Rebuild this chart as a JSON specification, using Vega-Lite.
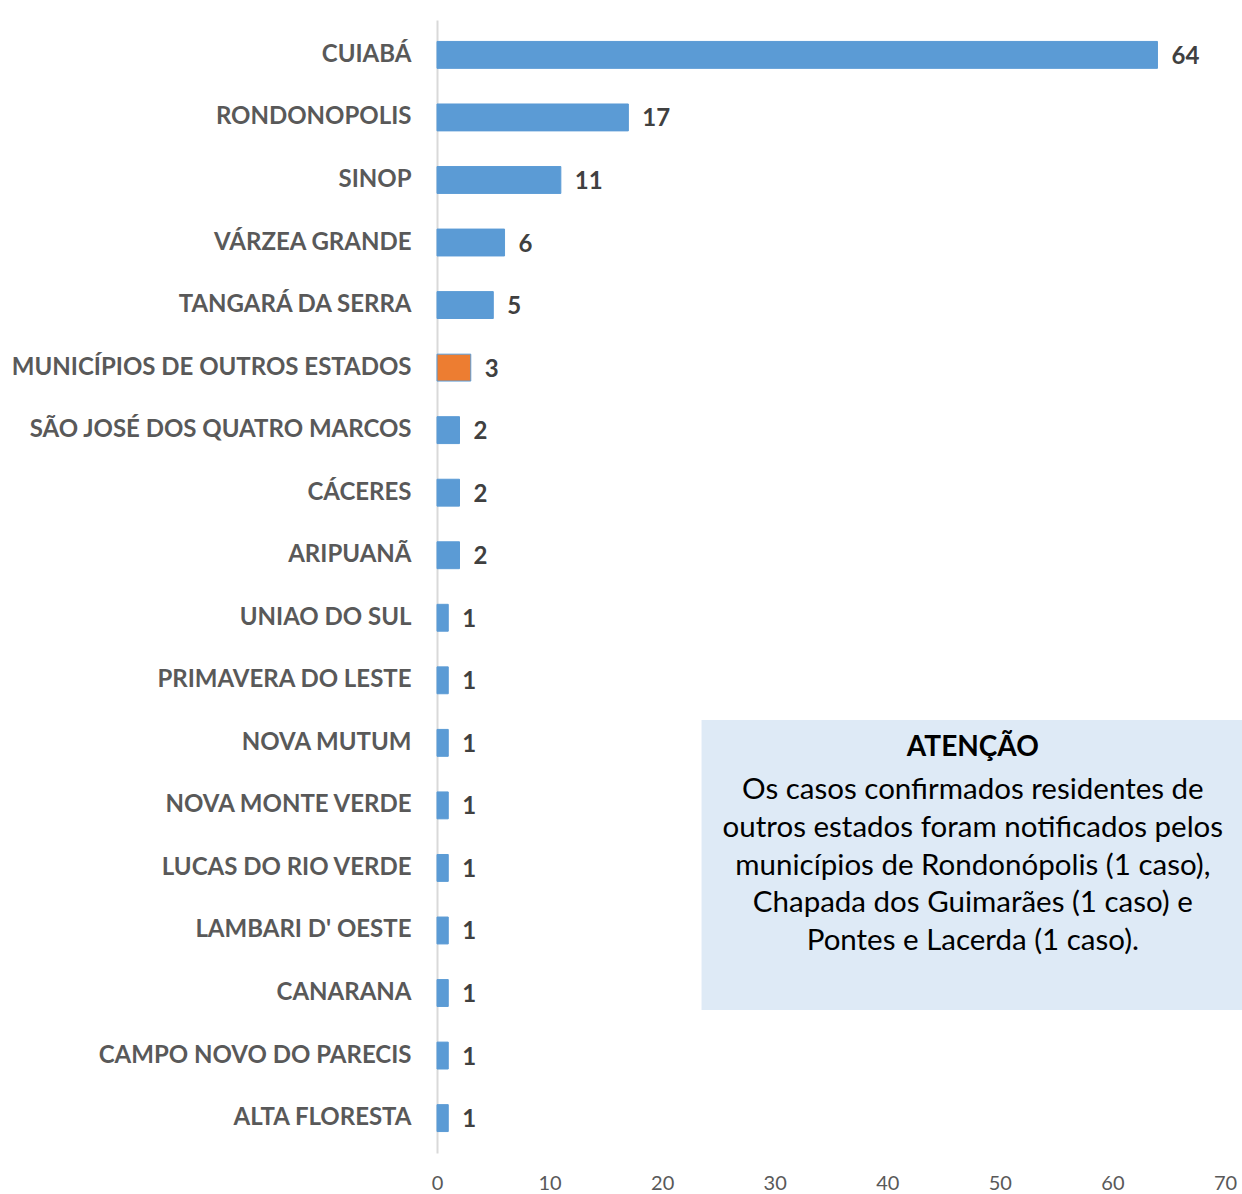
{
  "$schema": "https://vega.github.io/schema/vega-lite/v6.json",
  "autosize": "none",
  "width": 788,
  "height": 1133,
  "padding": {"left": 437, "top": 20, "right": 17, "bottom": 41},
  "background": "white",
  "config": {"view": {"stroke": null}, "font": "Lato"},
  "datasets": {
    "bars": [
      {"municipio": "CUIABÁ", "casos": 64, "grupo": "MT"},
      {"municipio": "RONDONOPOLIS", "casos": 17, "grupo": "MT"},
      {"municipio": "SINOP", "casos": 11, "grupo": "MT"},
      {"municipio": "VÁRZEA GRANDE", "casos": 6, "grupo": "MT"},
      {"municipio": "TANGARÁ DA SERRA", "casos": 5, "grupo": "MT"},
      {"municipio": "MUNICÍPIOS DE OUTROS ESTADOS", "casos": 3, "grupo": "Outros"},
      {"municipio": "SÃO JOSÉ DOS QUATRO MARCOS", "casos": 2, "grupo": "MT"},
      {"municipio": "CÁCERES", "casos": 2, "grupo": "MT"},
      {"municipio": "ARIPUANÃ", "casos": 2, "grupo": "MT"},
      {"municipio": "UNIAO DO SUL", "casos": 1, "grupo": "MT"},
      {"municipio": "PRIMAVERA DO LESTE", "casos": 1, "grupo": "MT"},
      {"municipio": "NOVA MUTUM", "casos": 1, "grupo": "MT"},
      {"municipio": "NOVA MONTE VERDE", "casos": 1, "grupo": "MT"},
      {"municipio": "LUCAS DO RIO VERDE", "casos": 1, "grupo": "MT"},
      {"municipio": "LAMBARI D' OESTE", "casos": 1, "grupo": "MT"},
      {"municipio": "CANARANA", "casos": 1, "grupo": "MT"},
      {"municipio": "CAMPO NOVO DO PARECIS", "casos": 1, "grupo": "MT"},
      {"municipio": "ALTA FLORESTA", "casos": 1, "grupo": "MT"}
    ],
    "box": [{"x1": 23.5, "x2": 71.6, "top": 11.12, "bottom": 15.73}],
    "titulo": [{"xc": 47.6, "yc": 11.57, "texto": "ATENÇÃO"}],
    "nota": [{"xc": 47.6, "yt": 12.01, "texto": "Os casos confirmados residentes de\noutros estados foram notificados pelos\nmunicípios de Rondonópolis (1 caso),\nChapada dos Guimarães (1 caso) e\nPontes e Lacerda (1 caso)."}]
  },
  "layer": [
    {
      "data": {"name": "box"},
      "mark": {"type": "rect", "color": "#DEEAF6", "clip": false},
      "encoding": {
        "x": {
          "field": "x1", "type": "quantitative", "scale": {"domain": [0, 70]},
          "axis": {
            "title": null, "values": [0, 10, 20, 30, 40, 50, 60, 70], "grid": false, "ticks": false, "domain": false,
            "labelFlush": false,
            "labelFontSize": 20, "labelColor": "#595959", "labelPadding": 20, "labelFont": "Lato"
          }
        },
        "x2": {"field": "x2"},
        "y": {"field": "top", "type": "quantitative", "scale": {"domain": [0, 18], "reverse": true}, "axis": null},
        "y2": {"field": "bottom"}
      }
    },
    {
      "data": {"name": "titulo"},
      "mark": {"type": "text", "align": "center", "baseline": "middle", "fontSize": 28, "fontWeight": "bold", "color": "#000000", "font": "Lato"},
      "encoding": {
        "x": {"field": "xc", "type": "quantitative"},
        "y": {"field": "yc", "type": "quantitative", "scale": {"domain": [0, 18], "reverse": true}, "axis": null},
        "text": {"field": "texto"}
      }
    },
    {
      "data": {"name": "nota"},
      "mark": {"type": "text", "align": "center", "baseline": "top", "fontSize": 29.5, "lineHeight": 37.8, "lineBreak": "\n", "color": "#000000", "font": "Lato"},
      "encoding": {
        "x": {"field": "xc", "type": "quantitative"},
        "y": {"field": "yt", "type": "quantitative", "scale": {"domain": [0, 18], "reverse": true}, "axis": null},
        "text": {"field": "texto"}
      }
    },
    {
      "data": {"name": "bars"},
      "layer": [
        {
          "mark": {"type": "bar", "stroke": "#5B9BD5", "strokeWidth": 1},
          "encoding": {
            "y": {
              "field": "municipio", "type": "nominal", "sort": null,
              "scale": {"paddingInner": 0.57, "paddingOuter": 0.343},
              "axis": {
                "title": null, "ticks": false, "domainColor": "#D9D9D9", "domainWidth": 2,
                "labelFontSize": 24, "labelFontWeight": "bold", "labelColor": "#595959",
                "labelPadding": 26, "labelFont": "Lato", "labelLimit": 500
              }
            },
            "x": {"field": "casos", "type": "quantitative"},
            "color": {
              "field": "grupo", "type": "nominal",
              "scale": {"domain": ["MT", "Outros"], "range": ["#5B9BD5", "#ED7D31"]},
              "legend": null
            }
          }
        },
        {
          "mark": {"type": "text", "align": "left", "baseline": "middle", "dx": 14, "dy": 2, "fontSize": 24, "fontWeight": "bold", "color": "#404040", "font": "Lato"},
          "encoding": {
            "y": {"field": "municipio", "type": "nominal", "sort": null},
            "x": {"field": "casos", "type": "quantitative"},
            "text": {"field": "casos"}
          }
        }
      ]
    }
  ],
  "resolve": {"scale": {"y": "independent"}}
}
